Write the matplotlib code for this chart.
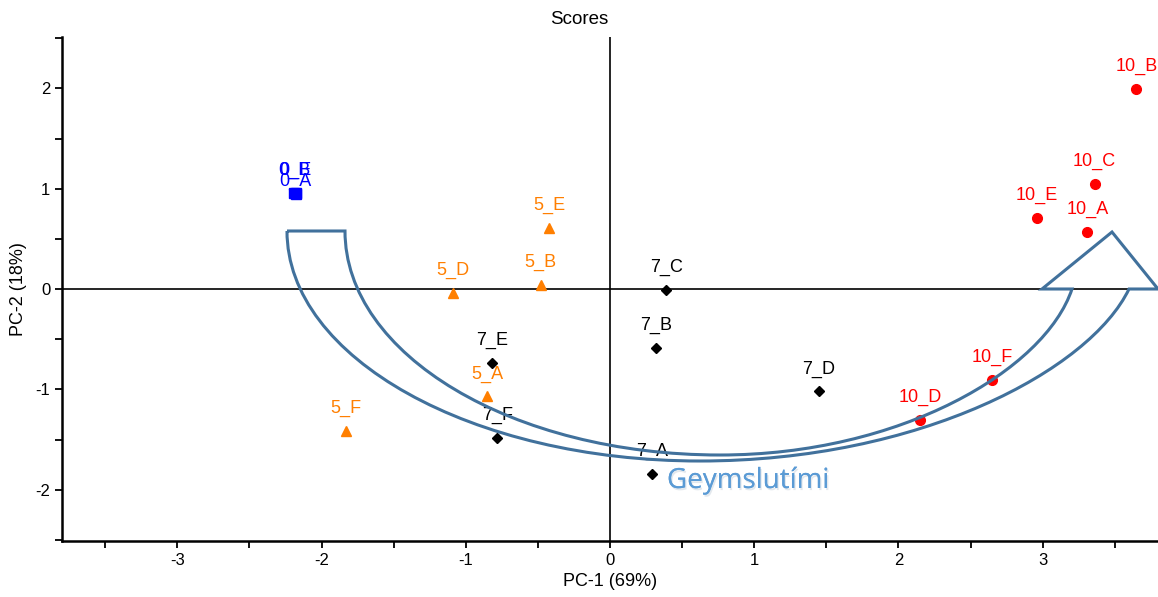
import numpy as np
import matplotlib.pyplot as plt
import matplotlib.patheffects as pe
from matplotlib.path import Path
from matplotlib.patches import PathPatch
from matplotlib.ticker import MultipleLocator

plt.rcParams['font.family'] = ['Liberation Sans', 'DejaVu Sans']
plt.rcParams['axes.unicode_minus'] = False

# PCA scores per storage day
names_0 = ['0_B', '0_E', '0_A']
pc1_0 = [-2.19, -2.18, -2.18]
pc2_0 = [0.96, 0.96, 0.95]

names_5 = ['5_E', '5_B', '5_D', '5_A', '5_F']
pc1_5 = [-0.42, -0.48, -1.09, -0.85, -1.83]
pc2_5 = [0.61, 0.04, -0.04, -1.07, -1.41]

names_7 = ['7_C', '7_B', '7_D', '7_E', '7_F', '7_A']
pc1_7 = [0.39, 0.32, 1.45, -0.82, -0.78, 0.29]
pc2_7 = [-0.01, -0.59, -1.02, -0.74, -1.48, -1.84]

names_10 = ['10_B', '10_C', '10_E', '10_A', '10_F', '10_D']
pc1_10 = [3.65, 3.36, 2.96, 3.31, 2.65, 2.15]
pc2_10 = [1.99, 1.045, 0.71, 0.57, -0.905, -1.30]

fig = plt.figure(figsize=(11.58, 5.97), dpi=100)
ax = fig.add_axes([0.0535, 0.0938, 0.9465, 0.844])

groups = [
    (names_0, pc1_0, pc2_0, 's', '#0000ff', 7),
    (names_5, pc1_5, pc2_5, '^', '#ff7f00', 7),
    (names_7, pc1_7, pc2_7, 'D', '#000000', 5),
    (names_10, pc1_10, pc2_10, 'o', '#ff0000', 7),
]
for names, xs, ys, mk, col, ms in groups:
    ax.plot(xs, ys, ls='none', marker=mk, color=col, ms=ms, zorder=3)
    for n, x, y in zip(names, xs, ys):
        dy = 2.5 if n == '0_A' else 10
        ax.annotate(n, (x, y), xytext=(0, dy), textcoords='offset points',
                    ha='center', va='bottom', color=col, fontsize=13)

ax.axhline(0, color='black', lw=1.2, zorder=1)
ax.axvline(0, color='black', lw=1.2, zorder=1)

ax.set_xlim(-3.8, 3.8)
ax.set_ylim(-2.51, 2.51)
ax.xaxis.set_major_locator(MultipleLocator(1))
ax.xaxis.set_minor_locator(MultipleLocator(0.5))
ax.yaxis.set_major_locator(MultipleLocator(1))
ax.yaxis.set_minor_locator(MultipleLocator(0.5))
ax.tick_params(which='both', direction='out', width=1.3, length=5, labelsize=12)
for side in ['top', 'right']:
    ax.spines[side].set_visible(False)
for side in ['left', 'bottom']:
    ax.spines[side].set_linewidth(1.8)
ax.set_xlabel('PC-1 (69%)', fontsize=13, labelpad=4)
ax.set_ylabel('PC-2 (18%)', fontsize=13, labelpad=6)
fig.text(0.5, 0.968, 'Scores', ha='center', va='center', fontsize=13.5)

# curved block arrow drawn over the plot in pixel space
ov = fig.add_axes([0, 0, 1, 1])
ov.set_xlim(0, 1158)
ov.set_ylim(597, 0)
ov.axis('off')
ov.patch.set_alpha(0)

verts = [
    (287, 231), (345, 231),
    # inner edge
    (345, 355), (513, 455), (720, 455),
    (900, 455), (1045, 370), (1072, 289),
    # head
    (1042, 289), (1112, 232), (1158, 289), (1129, 289),
    # outer edge
    (1090, 370), (920, 461), (700, 461),
    (472, 461), (287, 358), (287, 231),
]
codes = [Path.MOVETO, Path.LINETO,
         Path.CURVE4, Path.CURVE4, Path.CURVE4,
         Path.CURVE4, Path.CURVE4, Path.CURVE4,
         Path.LINETO, Path.LINETO, Path.LINETO, Path.LINETO,
         Path.CURVE4, Path.CURVE4, Path.CURVE4,
         Path.CURVE4, Path.CURVE4, Path.CURVE4]
ov.add_patch(PathPatch(Path(verts, codes), facecolor='none',
                       edgecolor='#41719c', lw=2.2, clip_on=False))

ov.text(667, 481, 'Geymslutími', color='#5b9bd5', fontsize=20,
        family=['Open Sans', 'DejaVu Sans'], ha='left', va='center',
        path_effects=[pe.withSimplePatchShadow(offset=(1, -1.5), shadow_rgbFace='#c8d2dc', alpha=0.5),
                      pe.Normal()])

fig.savefig('out.png', dpi=100)
